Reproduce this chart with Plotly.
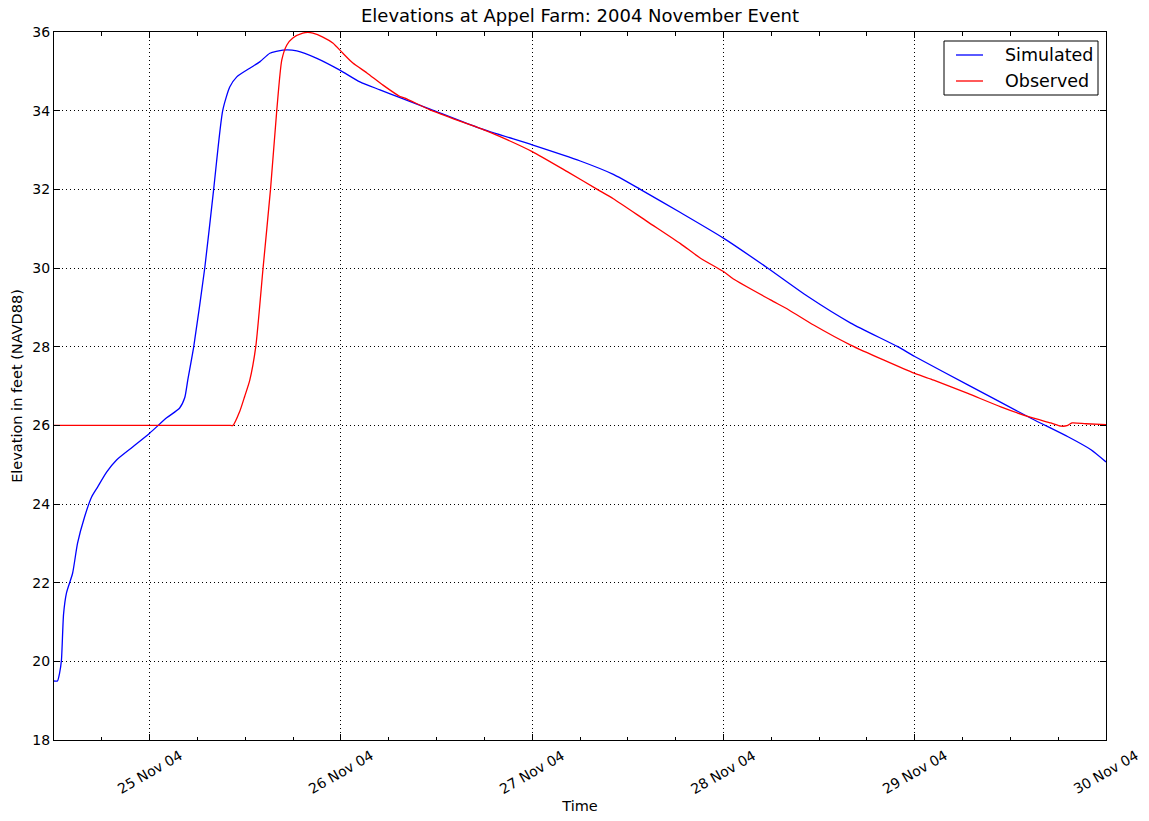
import plotly.graph_objects as go

# Simulated water-surface elevation (ft, NAVD88)
sim_time = [
    "2004-11-24 12:00", "2004-11-24 12:26", "2004-11-24 12:42", "2004-11-24 12:56",
    "2004-11-24 13:12", "2004-11-24 13:34", "2004-11-24 14:20", "2004-11-24 14:57",
    "2004-11-24 15:50", "2004-11-24 16:43", "2004-11-24 17:28", "2004-11-24 18:36",
    "2004-11-24 19:51", "2004-11-24 21:52", "2004-11-25 00:00", "2004-11-25 02:08",
    "2004-11-25 03:46", "2004-11-25 04:24", "2004-11-25 04:47", "2004-11-25 05:32",
    "2004-11-25 06:55", "2004-11-25 08:02", "2004-11-25 09:10", "2004-11-25 10:03",
    "2004-11-25 10:56", "2004-11-25 12:34", "2004-11-25 13:49", "2004-11-25 15:05",
    "2004-11-25 16:43", "2004-11-25 18:28", "2004-11-25 20:59", "2004-11-25 23:52",
    "2004-11-26 02:23", "2004-11-26 04:54", "2004-11-26 07:25", "2004-11-26 11:11",
    "2004-11-26 17:28", "2004-11-27 00:00", "2004-11-27 06:02", "2004-11-27 10:11",
    "2004-11-27 13:34", "2004-11-27 18:36", "2004-11-28 00:00", "2004-11-28 05:32",
    "2004-11-28 10:33", "2004-11-28 15:58", "2004-11-28 21:52", "2004-11-29 00:00",
    "2004-11-29 06:40", "2004-11-29 14:35", "2004-11-29 19:14", "2004-11-29 22:07",
    "2004-11-30 00:00",
]
sim_elev = [
    19.5, 19.5, 19.7, 20.03, 21.2, 21.74, 22.24, 23.0, 23.67, 24.18, 24.43, 24.81,
    25.12, 25.45, 25.8, 26.19, 26.44, 26.7, 27.15, 28.0, 30.0, 32.0, 34.0, 34.6,
    34.86, 35.08, 35.24, 35.46, 35.54, 35.52, 35.33, 35.03, 34.73, 34.53, 34.33,
    34.04, 33.55, 33.13, 32.72, 32.38, 32.0, 31.41, 30.76, 30.0, 29.28, 28.6, 28.0,
    27.75, 27.03, 26.18, 25.71, 25.38, 25.07,
]

# Observed gauge elevation (ft, NAVD88)
obs_time = [
    "2004-11-24 12:00", "2004-11-24 18:00", "2004-11-25 00:00", "2004-11-25 06:00",
    "2004-11-25 09:00", "2004-11-25 10:00", "2004-11-25 10:28", "2004-11-25 11:18",
    "2004-11-25 11:56", "2004-11-25 12:34", "2004-11-25 13:19", "2004-11-25 14:14",
    "2004-11-25 15:10", "2004-11-25 15:57", "2004-11-25 16:35", "2004-11-25 17:13",
    "2004-11-25 17:58", "2004-11-25 19:13", "2004-11-25 19:51", "2004-11-25 20:29",
    "2004-11-25 21:44", "2004-11-25 22:59", "2004-11-26 00:15", "2004-11-26 01:30",
    "2004-11-26 03:16", "2004-11-26 05:17", "2004-11-26 07:25", "2004-11-26 08:02",
    "2004-11-26 11:11", "2004-11-26 14:19", "2004-11-26 17:28", "2004-11-26 19:59",
    "2004-11-27 00:00", "2004-11-27 04:24", "2004-11-27 08:10", "2004-11-27 10:11",
    "2004-11-27 14:27", "2004-11-27 18:36", "2004-11-27 21:07", "2004-11-28 00:00",
    "2004-11-28 01:15", "2004-11-28 05:54", "2004-11-28 08:10", "2004-11-28 11:19",
    "2004-11-28 15:58", "2004-11-29 00:00", "2004-11-29 02:23", "2004-11-29 06:40",
    "2004-11-29 10:48", "2004-11-29 14:35", "2004-11-29 17:05", "2004-11-29 18:21",
    "2004-11-29 19:06", "2004-11-29 19:44", "2004-11-29 21:29", "2004-11-30 00:00",
]
obs_elev = [
    26.0, 26.0, 26.0, 26.0, 26.0, 26.0, 26.0, 26.35, 26.74, 27.15, 28.0, 30.0,
    32.0, 34.0, 35.29, 35.67, 35.85, 35.97, 35.99, 35.97, 35.87, 35.72, 35.46,
    35.21, 34.96, 34.65, 34.36, 34.32, 34.02, 33.78, 33.55, 33.34, 32.96, 32.45,
    32.0, 31.76, 31.18, 30.62, 30.25, 29.91, 29.72, 29.19, 28.94, 28.55, 28.04,
    27.32, 27.15, 26.81, 26.47, 26.2, 26.06, 25.98, 25.99, 26.06, 26.04, 26.02,
]

# Daily date ticks and their labels
tick_dates = ["2004-11-25", "2004-11-26", "2004-11-27", "2004-11-28", "2004-11-29", "2004-11-30"]
tick_labels = ["25 Nov 04", "26 Nov 04", "27 Nov 04", "28 Nov 04", "29 Nov 04", "30 Nov 04"]

series_names = ["Simulated", "Observed"]
series_colors = ["#0000ff", "#ff0000"]

x_range = ["2004-11-24 12:00", "2004-11-30 00:00"]
FONT = "DejaVu Sans"
HOUR_MS = 3600 * 1000

W, H = 1149, 821
ML, MR, MT, MB = 54, 43, 32, 81
PW, PH = W - ML - MR, H - MT - MB


def px_x(p):
    """Pixel column -> paper x."""
    return (p - ML) / PW


def px_y(p):
    """Pixel row -> paper y."""
    return 1 - (p - MT) / PH


fig = go.Figure()
for name, color, xs, ys in zip(series_names, series_colors,
                               [sim_time, obs_time], [sim_elev, obs_elev]):
    fig.add_trace(go.Scatter(x=xs, y=ys, mode="lines", name=name, showlegend=False,
                             line=dict(color=color, width=1.3, shape="spline",
                                       smoothing=0.6)))

grid = dict(showgrid=True, gridcolor="black", gridwidth=1, griddash="1px,3px")
frame = dict(showline=True, linecolor="black", linewidth=1, mirror="allticks",
             ticks="inside", tickcolor="black", zeroline=False)

fig.update_layout(
    width=W, height=H,
    margin=dict(l=ML, r=MR, t=MT, b=MB),
    paper_bgcolor="white", plot_bgcolor="white",
    font=dict(family=FONT, size=14, color="black"),
    title=dict(text="Elevations at Appel Farm: 2004 November Event",
               x=0.5, xref="paper", y=1 - 16 / H, yref="container",
               xanchor="center", yanchor="middle",
               font=dict(family=FONT, size=18, color="black")),
    xaxis=dict(type="date", range=x_range, tickvals=tick_dates, ticklen=6,
               showticklabels=False,
               minor=dict(dtick=6 * HOUR_MS, tick0="2004-11-25", ticks="inside",
                          ticklen=3.5, tickcolor="black", showgrid=False),
               title=dict(text="Time", standoff=60, font=dict(size=14.5)),
               **grid, **frame),
    xaxis2=dict(type="date", range=x_range, overlaying="x", matches="x", side="bottom",
                anchor="y", dtick=HOUR_MS, tick0="2004-11-25", ticks="inside",
                ticklen=1.5, tickcolor="black", mirror="allticks", showline=False,
                showticklabels=False, showgrid=False, zeroline=False),
    yaxis=dict(range=[18, 36], dtick=2, tick0=18, ticklen=6,
               tickfont=dict(size=14),
               title=dict(text="Elevation in feet (NAVD88)", standoff=6,
                          font=dict(size=14.5)),
               **grid, **frame),
    showlegend=False,
)

# Rotated date labels centred under each daily tick
for d, lab in zip(tick_dates, tick_labels):
    fig.add_annotation(x=d, y=-32 / PH, xref="x", yref="paper", text=lab,
                       showarrow=False, textangle=-30, xanchor="center",
                       yanchor="middle", font=dict(family=FONT, size=14, color="black"))

# Legend box in the upper-right corner
fig.add_shape(type="rect", xref="paper", yref="paper",
              x0=px_x(944), x1=px_x(1098), y0=px_y(95), y1=px_y(41),
              line=dict(color="black", width=1), fillcolor="white", layer="above")
for i, (name, color) in enumerate(zip(series_names, series_colors)):
    row = 55 + 26 * i
    fig.add_shape(type="line", xref="paper", yref="paper",
                  x0=px_x(956), x1=px_x(983), y0=px_y(row), y1=px_y(row),
                  line=dict(color=color, width=1.3), layer="above")
    fig.add_annotation(x=px_x(1003), y=px_y(row), xref="paper", yref="paper",
                       text=name, showarrow=False, xanchor="left", yanchor="middle",
                       font=dict(family=FONT, size=17.5, color="black"))

fig.write_html("out.html")
